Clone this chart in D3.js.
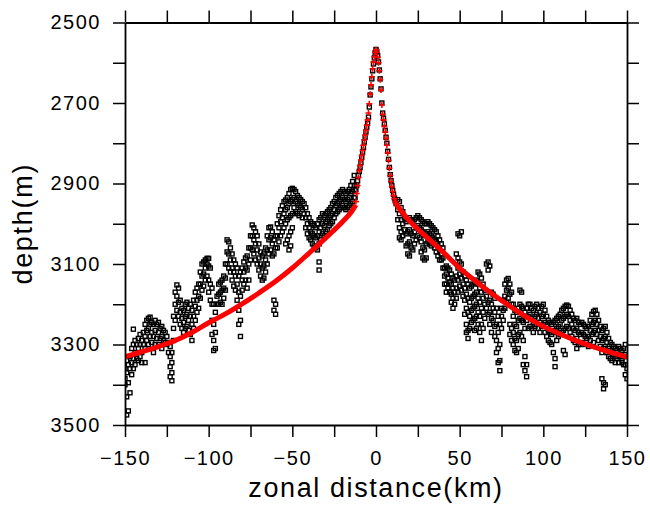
<!DOCTYPE html>
<html>
<head>
<meta charset="utf-8">
<script src="https://cdn.jsdelivr.net/npm/d3@7"></script>
<style>
  body { margin: 0; background: #fff; }
  text { font-family: "Liberation Sans", Arial, sans-serif; fill: #000; }
</style>
</head>
<body>
<div id="chart"></div>
<script>
// Axis ticks
const xTickValues = [-150, -125, -100, -75, -50, -25, 0, 25, 50, 75, 100, 125, 150];
const xLabelValues = [-150, -100, -50, 0, 50, 100, 150];
const yTickValues = [2500, 2600, 2700, 2800, 2900, 3000, 3100, 3200, 3300, 3400, 3500];
const yLabelValues = [2500, 2700, 2900, 3100, 3300, 3500];

// Observed depths: [km, depth, depth, ...] one column per km
const obsWest = [
  [-150, 3360, 3385, 3400], [-149, 3340, 3370, 3430, 3475], [-148, 3350, 3395, 3465],
  [-147, 3330, 3360, 3420], [-146, 3310, 3345, 3375], [-145, 3262, 3300, 3335, 3360],
  [-144, 3290, 3320, 3350], [-143, 3300, 3335], [-142, 3285, 3310, 3340],
  [-141, 3275, 3300, 3330], [-140, 3290, 3320, 3345], [-139, 3270, 3300],
  [-138, 3250, 3280, 3310, 3345], [-137, 3240, 3265, 3290], [-136, 3235, 3260, 3300],
  [-135, 3232, 3250, 3280], [-134, 3245, 3270, 3295], [-133, 3250, 3280, 3320],
  [-132, 3240, 3265, 3300], [-131, 3250, 3285], [-130, 3245, 3270, 3300],
  [-129, 3260, 3285], [-128, 3255, 3280, 3310], [-127, 3265, 3290],
  [-126, 3270, 3295], [-125, 3280, 3300], [-124, 3295, 3320],
  [-123, 3305, 3330, 3355, 3380], [-122, 3320, 3345, 3370, 3390], [-121, 3230, 3260, 3290],
  [-120, 3170, 3200, 3240], [-119, 3152, 3180, 3215], [-118, 3160, 3195, 3230],
  [-117, 3190, 3220, 3250], [-116, 3210, 3235, 3260], [-115, 3215, 3245, 3270],
  [-114, 3200, 3230, 3260], [-113, 3195, 3225, 3255], [-112, 3210, 3240, 3265],
  [-111, 3200, 3230, 3275], [-110, 3215, 3250, 3290], [-109, 3190, 3230, 3260],
  [-108, 3170, 3205, 3240], [-107, 3160, 3190, 3220], [-106, 3150, 3180, 3210],
  [-105, 3120, 3150, 3185], [-104, 3100, 3130, 3165], [-103, 3095, 3125, 3155],
  [-102, 3090, 3110, 3140], [-101, 3086, 3100, 3130], [-100, 3086, 3105, 3140, 3170],
  [-99, 3110, 3150, 3190], [-98, 3160, 3200, 3240, 3275], [-97, 3200, 3250, 3290, 3315],
  [-96, 3220, 3270, 3310], [-95, 3180, 3200], [-94, 3150, 3175, 3200],
  [-93, 3145, 3170, 3195], [-92, 3140, 3165, 3200], [-91, 3130, 3160, 3185],
  [-90, 3100, 3135, 3165], [-89, 3040, 3070, 3100], [-88, 3045, 3075, 3110],
  [-87, 3060, 3090, 3120], [-86, 3075, 3110, 3140], [-85, 3090, 3120, 3155],
  [-84, 3100, 3130, 3165], [-83, 3110, 3150, 3190], [-82, 3130, 3170, 3215, 3250],
  [-81, 3120, 3180, 3240, 3280], [-80, 3110, 3140, 3165], [-79, 3095, 3120, 3150],
  [-78, 3085, 3110, 3140], [-77, 3080, 3115, 3160], [-76, 3060, 3100, 3140],
  [-75, 3030, 3060, 3090], [-74, 3003, 3030, 3065], [-73, 3010, 3040, 3075],
  [-72, 3020, 3050, 3090], [-71, 3030, 3065, 3100], [-70, 3050, 3085, 3115],
  [-69, 3070, 3100, 3130], [-68, 3080, 3110, 3140], [-67, 3075, 3105, 3135],
  [-66, 3060, 3090, 3120], [-65, 3030, 3065, 3100], [-64, 3010, 3040, 3075],
  [-63, 3008, 3035, 3065], [-62, 3020, 3050, 3080], [-61, 3040, 3075, 3190, 3215],
  [-60, 3030, 3060, 3200, 3225], [-59, 3000, 3030, 3060], [-58, 2980, 3010, 3045],
  [-57, 2965, 2995, 3030], [-56, 2955, 2985, 3020], [-55, 2945, 2975, 3010],
  [-54, 2941, 2965, 3000, 3050], [-53, 2935, 2960, 2990, 3040], [-52, 2925, 2950, 2985, 3030, 3065],
  [-51, 2915, 2945, 2980, 3020, 3055], [-50, 2912, 2940, 2975, 3010], [-49, 2915, 2935, 2960],
  [-48, 2920, 2945, 2970], [-47, 2930, 2950, 2975], [-46, 2935, 2955, 2980],
  [-45, 2940, 2960], [-44, 2945, 2965, 2985], [-43, 2950, 2975],
  [-42, 2960, 2985, 3010], [-41, 2975, 3000, 3025], [-40, 2985, 3010, 3035],
  [-39, 2995, 3020, 3040], [-38, 3000, 3025, 3050], [-37, 3005, 3030, 3055],
  [-36, 3010, 3035, 3060], [-35, 3000, 3030, 3065], [-34, 2990, 3020, 3050, 3095, 3115],
  [-33, 2985, 3010, 3040], [-32, 2975, 3000, 3025], [-31, 2980, 3005, 3030],
  [-30, 2975, 2995, 3020], [-29, 2970, 2990, 3015], [-28, 2965, 2985, 3005],
  [-27, 2960, 2980, 3000], [-26, 2950, 2975, 2995], [-25, 2945, 2965, 2985],
  [-24, 2935, 2955, 2975], [-23, 2930, 2950, 2970], [-22, 2925, 2945, 2965],
  [-21, 2920, 2940, 2960], [-20, 2915, 2935, 2955], [-19, 2920, 2940, 2960],
  [-18, 2925, 2945, 2965], [-17, 2920, 2940, 2960], [-16, 2915, 2935, 2955],
  [-15, 2905, 2925, 2950], [-14, 2895, 2920, 2945], [-13, 2880, 2905, 2935]
];

const obsRidge = [
  [-12.5, 2916, 2935], [-12, 2915], [-11.5, 2905], [-11, 2893], [-10.5, 2880], [-10, 2870],
  [-9.5, 2860], [-9, 2848], [-8.5, 2835], [-8, 2822], [-7.5, 2810], [-7, 2797],
  [-6.5, 2785], [-6, 2772], [-5.5, 2760], [-5, 2750], [-4.5, 2735], [-4, 2710],
  [-3.5, 2680], [-3, 2660], [-2.5, 2640], [-2, 2620], [-1.5, 2603], [-1, 2588],
  [-0.5, 2575], [0, 2567], [0.5, 2572], [1, 2583], [1.5, 2598], [2, 2618],
  [2.5, 2640], [3, 2665], [3.5, 2700], [4, 2725], [4.5, 2738], [5, 2752],
  [5.5, 2768], [6, 2785], [6.5, 2800], [7, 2820], [7.5, 2840], [8, 2860],
  [8.5, 2878], [9, 2893], [9.5, 2905], [10, 2917], [10.5, 2927], [11, 2936],
  [11.5, 2943], [12, 2950]
];

const obsEast = [
  [13, 2940, 2965, 2990], [14, 2945, 2975, 3010, 3035], [15, 2960, 2990, 3020, 3040],
  [16, 2970, 3000, 3030], [17, 2985, 3015], [18, 2995, 3025, 3055],
  [19, 2990, 3020, 3050, 3075], [20, 2985, 3015, 3045, 3080], [21, 2990, 3025, 3060],
  [22, 2995, 3030, 3065], [23, 2990, 3020, 3050], [24, 2985, 3010, 3040],
  [25, 2980, 3005, 3030], [26, 2985, 3010, 3035], [27, 2990, 3015, 3045, 3070],
  [28, 2995, 3020, 3060, 3085], [29, 3000, 3030, 3065, 3090], [30, 3000, 3025, 3050, 3085],
  [31, 2995, 3020, 3045], [32, 3000, 3025, 3050], [33, 3005, 3030, 3055],
  [34, 3010, 3035], [35, 3015, 3040, 3060], [36, 3020, 3045, 3070],
  [37, 3030, 3055, 3080], [38, 3040, 3065, 3090], [39, 3050, 3075, 3090],
  [40, 3060, 3085, 3110], [41, 3110, 3130, 3150], [42, 3105, 3125, 3150, 3170],
  [43, 3110, 3135, 3160], [44, 3115, 3145, 3170], [45, 3125, 3150, 3175, 3195],
  [46, 3135, 3160, 3185, 3210], [47, 3140, 3170, 3200], [48, 3075, 3130, 3160, 3185],
  [49, 3025, 3085, 3110, 3140, 3170], [50, 3030, 3095, 3125, 3155], [51, 3020, 3100, 3135, 3165],
  [52, 3120, 3150, 3180], [53, 3130, 3160, 3190, 3225], [54, 3140, 3175, 3210, 3250, 3270],
  [55, 3150, 3185, 3220, 3265, 3285], [56, 3160, 3195, 3230, 3260], [57, 3155, 3185, 3215, 3245],
  [58, 3150, 3180, 3210, 3240], [59, 3145, 3175, 3205, 3235, 3265], [60, 3140, 3170, 3200, 3230, 3260],
  [61, 3120, 3150, 3185, 3220, 3250], [62, 3125, 3160, 3195, 3230, 3270], [63, 3135, 3170, 3210, 3250, 3290],
  [64, 3150, 3185, 3220, 3260], [65, 3165, 3200, 3235], [66, 3100, 3180, 3210],
  [67, 3095, 3115, 3195, 3225], [68, 3105, 3190, 3220, 3250], [69, 3170, 3200, 3235, 3270],
  [70, 3175, 3210, 3240], [71, 3185, 3220, 3255, 3280], [72, 3210, 3250, 3290, 3320],
  [73, 3230, 3270, 3310, 3345], [74, 3250, 3300, 3340, 3365], [75, 3210, 3230, 3260],
  [76, 3190, 3215, 3240], [77, 3150, 3180, 3210], [78, 3140, 3165, 3195],
  [79, 3136, 3160, 3185], [80, 3150, 3175, 3250, 3275], [81, 3170, 3200, 3260, 3290],
  [82, 3200, 3230, 3270, 3300], [83, 3215, 3250, 3285, 3315], [84, 3220, 3255, 3290, 3320],
  [85, 3210, 3240, 3275, 3310], [86, 3165, 3200, 3235, 3270], [87, 3170, 3205, 3240, 3280],
  [88, 3210, 3245, 3290, 3350], [89, 3220, 3260, 3330, 3365], [90, 3210, 3240, 3350, 3380],
  [91, 3200, 3230, 3260], [92, 3200, 3225, 3255], [93, 3210, 3235, 3260],
  [94, 3215, 3245, 3270], [95, 3205, 3230, 3255], [96, 3200, 3225, 3250],
  [97, 3210, 3235, 3260], [98, 3220, 3245, 3270], [99, 3205, 3230, 3255],
  [100, 3200, 3225, 3250], [101, 3215, 3245, 3270], [102, 3230, 3255, 3280],
  [103, 3240, 3265, 3290], [104, 3245, 3270, 3295], [105, 3250, 3275, 3300],
  [106, 3245, 3270, 3320], [107, 3240, 3265, 3335, 3355], [108, 3235, 3260, 3290],
  [109, 3230, 3255, 3280], [110, 3225, 3250, 3275], [111, 3215, 3240, 3270],
  [112, 3210, 3235, 3265, 3315], [113, 3205, 3230, 3260, 3325], [114, 3202, 3225, 3255],
  [115, 3205, 3230, 3260], [116, 3215, 3240, 3270], [117, 3225, 3250, 3280],
  [118, 3235, 3260, 3290], [119, 3240, 3265, 3295], [120, 3235, 3260, 3285, 3310],
  [121, 3245, 3270, 3300], [122, 3250, 3275, 3300], [123, 3245, 3270, 3295],
  [124, 3250, 3275], [125, 3255, 3280, 3300], [126, 3260, 3285],
  [127, 3255, 3280, 3305], [128, 3240, 3265, 3290], [129, 3225, 3250, 3275],
  [130, 3218, 3245, 3270, 3295], [131, 3215, 3240, 3265], [132, 3225, 3250, 3275],
  [133, 3240, 3265, 3290], [134, 3255, 3280, 3305], [135, 3265, 3290, 3320, 3385],
  [136, 3260, 3285, 3310, 3395, 3410], [137, 3255, 3280, 3305, 3400], [138, 3270, 3295, 3320],
  [139, 3285, 3310, 3330], [140, 3295, 3315, 3335], [141, 3300, 3320, 3340],
  [142, 3305, 3325], [143, 3310, 3330, 3345], [144, 3315, 3335],
  [145, 3305, 3325, 3345], [146, 3310, 3330], [147, 3315, 3335, 3345],
  [148, 3310, 3330, 3350], [149, 3300, 3325, 3350, 3375], [150, 3330, 3360, 3385]
];

// Model fit on the flanks (red line)
const fitWestKm = [-150, -140, -130, -120, -110, -100, -90, -80, -70, -60, -50, -40, -30, -20, -15, -12];
const fitWestDepth = [3331, 3318, 3305, 3290, 3270, 3246, 3224, 3199, 3172, 3143, 3110, 3073, 3035, 2995, 2972, 2953];
const fitEastKm = [12, 15, 20, 30, 40, 50, 60, 70, 80, 90, 100, 110, 120, 130, 140, 150];
const fitEastDepth = [2951, 2968, 2993, 3032, 3070, 3110, 3144, 3176, 3205, 3232, 3255, 3274, 3291, 3306, 3319, 3331];

// Model over the ridge crest (red plus markers)
const crestKm = [-12, -11.5, -11, -10.5, -10, -9.5, -9, -8.5, -8, -7.5, -7, -6.5, -6, -5.5, -5, -4.5, -4, -3.5, -3, -2.5, -2, -1.5, -1, -0.5,
  0, 0.5, 1, 1.5, 2, 2.5, 3, 3.5, 4, 4.5, 5, 5.5, 6, 6.5, 7, 7.5, 8, 8.5, 9, 9.5, 10, 10.5, 11, 11.5, 12];
const crestDepth = [2945, 2925, 2905, 2885, 2868, 2855, 2842, 2830, 2818, 2805, 2792, 2780, 2768, 2755, 2742, 2725, 2702, 2678, 2655, 2635, 2615, 2598, 2585, 2574,
  2568, 2574, 2586, 2600, 2620, 2642, 2668, 2705, 2728, 2742, 2758, 2772, 2788, 2805, 2824, 2843, 2862, 2880, 2895, 2908, 2920, 2930, 2938, 2945, 2950];

const margin = { top: 22.5, right: 23, bottom: 81, left: 125 };
const width = 650 - margin.left - margin.right;
const height = 506 - margin.top - margin.bottom;

const svg = d3.select("#chart")
  .append("svg")
  .attr("width", 650)
  .attr("height", 506);

const g = svg.append("g")
  .attr("transform", `translate(${margin.left},${margin.top})`);

const x = d3.scaleLinear().domain([-150, 150]).range([0, width]);
const y = d3.scaleLinear().domain([2500, 3500]).range([0, height]);

g.append("clipPath").attr("id", "plot-clip")
  .append("rect").attr("width", width).attr("height", height);

// Expand the columns into points
const points = obsWest.concat(obsRidge, obsEast)
  .flatMap(col => col.slice(1).map(d => ({ km: col[0], depth: d })));

const marks = g.append("g").attr("clip-path", "url(#plot-clip)");

marks.selectAll("rect.obs")
  .data(points)
  .join("rect")
  .attr("class", "obs")
  .attr("x", d => x(d.km) - 2)
  .attr("y", d => y(d.depth) - 2)
  .attr("width", 4)
  .attr("height", 4)
  .attr("fill", "none")
  .attr("stroke", "#000")
  .attr("stroke-width", 1.4);

// Red fit line
const fitLine = d3.line()
  .x(d => x(d[0]))
  .y(d => y(d[1]))
  .curve(d3.curveMonotoneX);

[[fitWestKm, fitWestDepth], [fitEastKm, fitEastDepth]].forEach(([ks, ds]) => {
  marks.append("path")
    .datum(ks.map((k, i) => [k, ds[i]]))
    .attr("d", fitLine)
    .attr("fill", "none")
    .attr("stroke", "#ff0000")
    .attr("stroke-width", 5);
});

// Red plus markers at the crest
marks.selectAll("path.crest")
  .data(crestKm.map((k, i) => [k, crestDepth[i]]))
  .join("path")
  .attr("class", "crest")
  .attr("transform", d => `translate(${x(d[0])},${y(d[1])})`)
  .attr("d", "M-3,0H3M0,-3V3")
  .attr("stroke", "#ff0000")
  .attr("stroke-width", 1.6)
  .attr("fill", "none");

// Axes
const fmt = d3.format("d");
const styleAxis = sel => {
  sel.selectAll(".domain").attr("stroke-width", 1.8);
  sel.selectAll(".tick line").attr("stroke-width", 1.5);
  sel.selectAll(".tick text")
    .style("font-family", "'Liberation Sans', Arial, sans-serif")
    .style("font-size", "20px")
    .style("letter-spacing", "1.5px");
};

g.append("g")
  .attr("transform", `translate(0,${height})`)
  .call(d3.axisBottom(x).tickValues(xTickValues).tickSize(12).tickSizeOuter(0).tickPadding(14)
    .tickFormat(d => xLabelValues.includes(d) ? fmt(d) : ""))
  .call(styleAxis);

g.append("g")
  .call(d3.axisTop(x).tickValues(xTickValues).tickSize(12).tickSizeOuter(0).tickFormat(""))
  .call(styleAxis);

g.append("g")
  .call(d3.axisLeft(y).tickValues(yTickValues).tickSize(12).tickSizeOuter(0).tickPadding(12)
    .tickFormat(d => yLabelValues.includes(d) ? fmt(d) : ""))
  .call(styleAxis);

g.append("g")
  .attr("transform", `translate(${width},0)`)
  .call(d3.axisRight(y).tickValues(yTickValues).tickSize(12).tickSizeOuter(0).tickFormat(""))
  .call(styleAxis);

// Axis titles
svg.append("text")
  .attr("x", margin.left + width / 2)
  .attr("y", 497)
  .attr("text-anchor", "middle")
  .style("font-size", "27px")
  .style("letter-spacing", "1.6px")
  .text("zonal distance(km)");

svg.append("text")
  .attr("transform", `translate(32,${margin.top + height / 2}) rotate(-90)`)
  .attr("text-anchor", "middle")
  .style("font-size", "27px")
  .style("letter-spacing", "1.7px")
  .text("depth(m)");
</script>
</body>
</html>
